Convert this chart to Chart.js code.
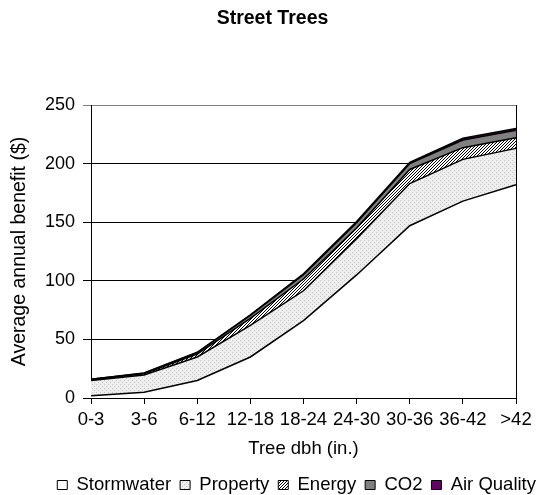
<!DOCTYPE html>
<html>
<head>
<meta charset="utf-8">
<title>Street Trees</title>
<script src="https://cdn.jsdelivr.net/npm/chart.js@4.4.1/dist/chart.umd.min.js"></script>
<style>
  html, body { margin: 0; padding: 0; background: #fff; }
  #wrap { width: 545px; height: 495px; }
</style>
</head>
<body>
<div id="wrap"><canvas id="trees-chart" width="545" height="495"></canvas></div>
<script>
// Benefit per tree by size class, $ per year (stacked)
const sizeClasses = ['0-3', '3-6', '6-12', '12-18', '18-24', '24-30', '30-36', '36-42', '>42'];
const stormwater = [2, 5, 15, 35, 66, 105, 147, 168, 182];
const property = [13, 14.6, 20, 27, 25.5, 31, 36, 35.6, 31];
const energy = [0.5, 1, 2.5, 6, 10, 9, 12, 10, 9];
const co2 = [0.4, 0.6, 1.2, 2.5, 3.7, 4.5, 5, 6.5, 6.5];
const airQuality = [0.1, 0.2, 0.3, 0.5, 0.8, 1, 1, 1.5, 1.5];
const yTicks = [0, 50, 100, 150, 200, 250];

// small repeating fills like the Excel patterns
function makePattern(size, draw) {
  const c = document.createElement('canvas');
  c.width = size;
  c.height = size;
  const g = c.getContext('2d');
  draw(g, size);
  return g.createPattern(c, 'repeat');
}

const dotted = makePattern(4, function(g) {
  g.fillStyle = '#eeeeee';
  g.fillRect(0, 0, 4, 4);
  g.fillStyle = '#c4c4c4';
  g.fillRect(0, 0, 1, 1);
  g.fillRect(2, 2, 1, 1);
});

const hatched = makePattern(3, function(g) {
  g.fillStyle = '#ffffff';
  g.fillRect(0, 0, 3, 3);
  g.fillStyle = '#000000';
  for (let i = 0; i < 3; i++) g.fillRect(i, 2 - i, 1, 1);
});

const font = "'Liberation Sans', Arial, sans-serif";
Chart.defaults.font.family = font;
Chart.defaults.color = '#000';

function series(label, data, fill, bg) {
  return {
    label: label,
    data: data,
    fill: fill,
    backgroundColor: bg,
    borderColor: '#000',
    borderWidth: 1.5,
    pointRadius: 0,
    tension: 0
  };
}

new Chart(document.getElementById('trees-chart'), {
  type: 'line',
  data: {
    labels: sizeClasses,
    datasets: [
      series('Stormwater', stormwater, 'origin', '#ffffff'),
      series('Property', property, '-1', dotted),
      series('Energy', energy, '-1', hatched),
      series('CO2', co2, '-1', '#808080'),
      series('Air Quality', airQuality, '-1', '#660066')
    ]
  },
  options: {
    responsive: false,
    animation: false,
    layout: { padding: { left: 0, right: 0, top: 0, bottom: -9.25 } },
    plugins: {
      title: {
        display: true,
        text: 'Street Trees',
        color: '#000',
        font: { size: 19.5, weight: 'bold' },
        padding: { top: 7, bottom: 74.6 }
      },
      legend: {
        position: 'bottom',
        align: 'end',
        labels: {
          boxWidth: 10,
          boxHeight: 9,
          padding: 9,
          color: '#000',
          font: { size: 18.5 },
          generateLabels: function(chart) {
            return Chart.defaults.plugins.legend.labels.generateLabels(chart).map(function(item) {
              item.lineWidth = 1;
              return item;
            });
          }
        }
      },
      tooltip: { enabled: false }
    },
    scales: {
      x: {
        grid: { drawOnChartArea: false, color: '#000', tickLength: 6 },
        border: { color: '#000' },
        ticks: { padding: 5, color: '#000', font: { size: 18.5 }, maxRotation: 0, autoSkip: false },
        title: {
          display: true,
          text: 'Tree dbh (in.)',
          color: '#000',
          font: { size: 18.5 },
          padding: { top: 0, bottom: 6.6 }
        },
        afterFit: function(scale) { scale.height = 68.75; }
      },
      y: {
        stacked: true,
        min: 0,
        max: 250,
        afterBuildTicks: function(scale) {
          scale.ticks = yTicks.map(function(v) { return { value: v }; });
        },
        ticks: { padding: 8, color: '#000', font: { size: 18 } },
        grid: {
          color: function(ctx) {
            return ctx.tick && ctx.tick.value === 250 ? '#808080' : '#000';
          },
          tickLength: 8
        },
        border: { color: '#000' },
        title: {
          display: true,
          text: 'Average annual benefit ($)',
          color: '#000',
          font: { size: 19.5 },
          padding: { top: 8, bottom: 0 }
        },
        afterFit: function(scale) { scale.width = 91; }
      },
      y2: {
        type: 'linear',
        position: 'right',
        grid: { display: false, drawTicks: false },
        ticks: { display: false },
        border: { display: true, color: '#000' },
        afterFit: function(scale) { scale.width = 29; }
      }
    }
  }
});
</script>
</body>
</html>
